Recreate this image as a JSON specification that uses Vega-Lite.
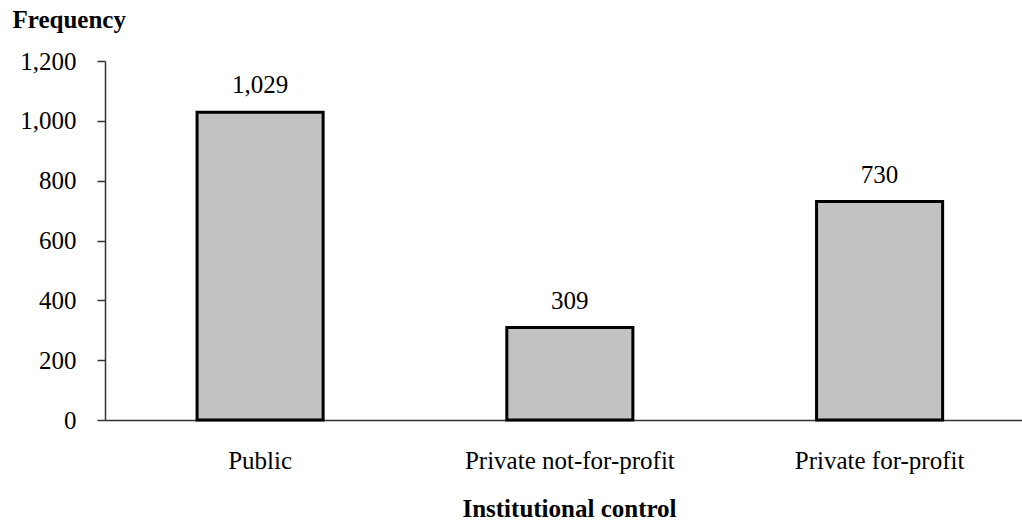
{
  "$schema": "https://vega.github.io/schema/vega-lite/v6.json",
  "autosize": {"type": "none"},
  "width": 917,
  "height": 359,
  "padding": {"left": 105, "top": 61, "right": 0, "bottom": 101},
  "background": "white",
  "config": {"view": {"stroke": null}, "font": "Liberation Serif"},
  "data": {
    "values": [
      {"control": "Public", "frequency": 1029},
      {"control": "Private not-for-profit", "frequency": 309},
      {"control": "Private for-profit", "frequency": 730}
    ]
  },
  "encoding": {
    "x": {
      "field": "control",
      "type": "nominal",
      "sort": null,
      "scale": {"paddingInner": 0.593, "paddingOuter": 0.2767, "align": 0.537},
      "axis": {
        "title": "Institutional control",
        "titleFont": "Liberation Serif",
        "titleFontSize": 25,
        "titleFontWeight": "bold",
        "titleColor": "black",
        "titleX": 464,
        "titleY": 96,
        "titleAlign": "center",
        "titleBaseline": "alphabetic",
        "labelAngle": 0,
        "labelFont": "Liberation Serif",
        "labelFontSize": 25,
        "labelColor": "black",
        "labelPadding": 28,
        "labelLimit": 0,
        "ticks": false,
        "tickSize": 0,
        "domainColor": "#333333",
        "domainWidth": 1.5,
        "grid": false
      }
    },
    "y": {
      "field": "frequency",
      "type": "quantitative",
      "scale": {"domain": [0, 1200], "nice": false},
      "axis": {
        "title": "Frequency",
        "titleAngle": 0,
        "titleX": -93,
        "titleY": -34,
        "titleAlign": "left",
        "titleBaseline": "alphabetic",
        "titleFont": "Liberation Serif",
        "titleFontSize": 25,
        "titleFontWeight": "bold",
        "titleColor": "black",
        "values": [0, 200, 400, 600, 800, 1000, 1200],
        "format": ",d",
        "labelFont": "Liberation Serif",
        "labelFontSize": 25,
        "labelColor": "black",
        "labelPadding": 21,
        "labelBaseline": "middle",
        "tickSize": 8,
        "tickColor": "#333333",
        "tickWidth": 1.5,
        "domainColor": "#333333",
        "domainWidth": 1.5,
        "grid": false
      }
    }
  },
  "layer": [
    {"mark": {"type": "bar", "fill": "#c2c2c2", "stroke": "black", "strokeWidth": 3}},
    {
      "mark": {"type": "text", "dy": -19, "baseline": "alphabetic", "fontSize": 25, "font": "Liberation Serif", "color": "black"},
      "encoding": {"text": {"field": "frequency", "type": "quantitative", "format": ",d"}}
    }
  ]
}
